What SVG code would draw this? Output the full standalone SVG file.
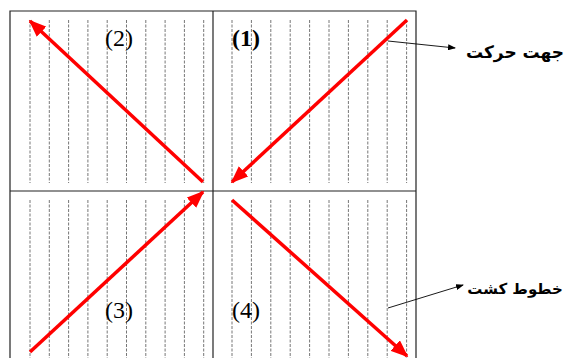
<svg xmlns="http://www.w3.org/2000/svg" width="568" height="358" viewBox="0 0 568 358">
<defs>
<marker id="red" markerWidth="5" markerHeight="4" refX="4.5" refY="2" orient="auto" markerUnits="strokeWidth"><path d="M0,0 L5,2 L0,4 Z" fill="#ff0000"/></marker>
<marker id="blk" markerWidth="8" markerHeight="6" refX="7" refY="3" orient="auto" markerUnits="userSpaceOnUse"><path d="M0,0 L8,3 L0,6 Z" fill="#000"/></marker>
</defs>
<style>
.dash{stroke:#777;stroke-width:1;stroke-dasharray:3,1.5;fill:none}
.frame{stroke:#222;stroke-width:1.2;fill:none}
.dir{stroke:#ff0000;stroke-width:3.5;fill:none;marker-end:url(#red)}
.call{stroke:#000;stroke-width:0.9;fill:none;marker-end:url(#blk)}
.num{font-family:"Liberation Serif",serif;font-size:24px;fill:#000}
.lab{font-family:"DejaVu Sans","Noto Sans",sans-serif;font-size:17px;font-weight:bold;fill:#000}
</style>
<rect width="568" height="358" fill="#fff"/>
<g id="rows">
<g class="dash">
<path d="M30,20V183M49.3,20V183M68.6,20V183M87.9,20V183M107.2,20V183M126.5,20V183M145.8,20V183M165.1,20V183M184.4,20V183M203.7,20V183"/>
<path d="M232,20V183M251.4,20V183M270.8,20V183M290.2,20V183M309.6,20V183M329,20V183M348.4,20V183M367.8,20V183M387.2,20V183M406.6,20V183"/>
<path d="M30,200V358M49.3,200V358M68.6,200V358M87.9,200V358M107.2,200V358M126.5,200V358M145.8,200V358M165.1,200V358M184.4,200V358M203.7,200V358"/>
<path d="M232,200V358M251.4,200V358M270.8,200V358M290.2,200V358M309.6,200V358M329,200V358M348.4,200V358M367.8,200V358M387.2,200V358M406.6,200V358"/>
</g>
</g>
<g id="frame" class="frame">
<path d="M10,360V11H416V360"/>
<path d="M213,11V360"/>
<path d="M10,191H416"/>
</g>
<g id="connectors">
<line class="dir" x1="203" y1="182" x2="30" y2="21"/>
<line class="dir" x1="407" y1="20" x2="232" y2="182"/>
<line class="dir" x1="30" y1="352" x2="203" y2="192"/>
<line class="dir" x1="232" y1="200" x2="407" y2="356"/>
<line class="call" x1="388" y1="41" x2="455" y2="48"/>
<line class="call" x1="388" y1="308" x2="463" y2="285"/>
</g>
<g id="q1"><text class="num" x="232" y="46" style="font-weight:bold">(1)</text></g>
<g id="q2"><text class="num" x="105" y="46">(2)</text></g>
<g id="q3"><text class="num" x="105" y="318">(3)</text></g>
<g id="q4"><text class="num" x="232" y="318">(4)</text></g>
<g id="label-dir"><text class="lab" x="515" y="58" text-anchor="middle">جهت حرکت</text></g>
<g id="label-rows"><text class="lab" x="515" y="294" text-anchor="middle" style="font-size:15px">خطوط کشت</text></g>
</svg>
